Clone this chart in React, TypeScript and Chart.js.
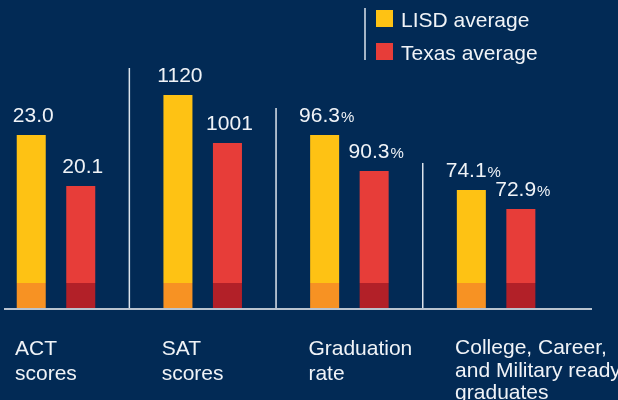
import React, { useEffect, useRef } from 'react';
import { Chart, registerables } from 'chart.js';

Chart.register(...registerables);

// ---------- data ----------
const categories: string[][] = [
  ['ACT', 'scores'],
  ['SAT', 'scores'],
  ['Graduation', 'rate'],
  ['College, Career,', 'and Military ready', 'graduates'],
];
const seriesNames: string[] = ['LISD average', 'Texas average'];
const lisdValues: number[] = [23.0, 1120, 96.3, 74.1];
const texasValues: number[] = [20.1, 1001, 90.3, 72.9];
const valueDecimals: number[] = [1, 0, 1, 1];
const valueSuffix: string[] = ['', '', '%', '%'];
// each metric is drawn on its own (hidden) value axis
const groupAxisMin: number[] = [13.11, 589.5, 67.3, 66.58];
const groupAxisMax: number[] = [30.68, 1355.5, 118.8, 86.1];

// ---------- style ----------
const FONT = "'Liberation Sans', Arial, sans-serif";
const BG = '#022a55';
const TEXT = '#f0f3f7';
const LINE = '#dde4ec';
const seriesColors = [
  { top: '#fec214', base: '#f79223' },
  { top: '#e73d39', base: '#b22028' },
];

function bandFill(ctx: any, s: number) {
  const chart = ctx.chart;
  const area = chart.chartArea;
  const c = seriesColors[s];
  if (!area) return c.top;
  const g = chart.ctx.createLinearGradient(0, area.bottom, 0, area.bottom - 52);
  g.addColorStop(0, c.base);
  g.addColorStop(0.5, c.base);
  g.addColorStop(0.5, c.top);
  g.addColorStop(1, c.top);
  return g;
}

const valueLabelPlugin = {
  id: 'valueLabels',
  afterDatasetsDraw(chart: any) {
    const ctx = chart.ctx;
    ctx.save();
    ctx.fillStyle = TEXT;
    ctx.textBaseline = 'alphabetic';
    ctx.textAlign = 'left';
    chart.data.datasets.forEach((ds: any, i: number) => {
      const el = chart.getDatasetMeta(i).data[0];
      if (!el) return;
      const g = ds.group;
      const num = Number(ds.data[0].y).toFixed(valueDecimals[g]);
      const suf = valueSuffix[g];
      ctx.font = `21px ${FONT}`;
      const wNum = ctx.measureText(num).width;
      ctx.font = `15px ${FONT}`;
      const wSuf = suf ? ctx.measureText(suf).width + 1 : 0;
      const left = el.x + 2 - (wNum + wSuf) / 2;
      const y = el.y - 13;
      ctx.font = `21px ${FONT}`;
      ctx.fillText(num, left, y);
      if (suf) {
        ctx.font = `15px ${FONT}`;
        ctx.fillText(suf, left + wNum + 1, y);
      }
    });
    ctx.restore();
  },
};

const separatorPlugin = {
  id: 'groupSeparators',
  afterDatasetsDraw(chart: any) {
    const ctx = chart.ctx;
    const xs = chart.scales.x;
    const bottom = chart.chartArea.bottom;
    ctx.save();
    ctx.strokeStyle = LINE;
    ctx.lineWidth = 1.5;
    for (let g = 1; g < categories.length; g++) {
      let top = Infinity;
      chart.data.datasets.forEach((ds: any, i: number) => {
        if (ds.group === g) {
          const el = chart.getDatasetMeta(i).data[0];
          if (el) top = Math.min(top, el.y);
        }
      });
      const px = xs.getPixelForValue(g - 0.5);
      ctx.beginPath();
      ctx.moveTo(px, top - 27);
      ctx.lineTo(px, bottom);
      ctx.stroke();
    }
    ctx.restore();
  },
};

const legendPlugin = {
  id: 'sideLegend',
  afterDraw(chart: any) {
    const ctx = chart.ctx;
    ctx.save();
    ctx.strokeStyle = LINE;
    ctx.lineWidth = 1.5;
    ctx.beginPath();
    ctx.moveTo(365, 8);
    ctx.lineTo(365, 60);
    ctx.stroke();
    ctx.font = `21px ${FONT}`;
    ctx.textBaseline = 'alphabetic';
    ctx.textAlign = 'left';
    seriesNames.forEach((name, s) => {
      const y = 10 + s * 33;
      ctx.fillStyle = seriesColors[s].top;
      ctx.fillRect(376, y, 17, 17);
      ctx.fillStyle = TEXT;
      ctx.fillText(name, 401, y + 16.5);
    });
    ctx.restore();
  },
};

export default function App() {
  const ref = useRef<HTMLCanvasElement | null>(null);

  useEffect(() => {
    if (!ref.current) return;
    const datasets: any[] = [];
    categories.forEach((_, g) => {
      [lisdValues, texasValues].forEach((vals, s) => {
        datasets.push({
          label: seriesNames[s],
          data: [{ x: g, y: vals[g] }],
          yAxisID: 'y' + g,
          group: g,
          backgroundColor: (ctx: any) => bandFill(ctx, s),
          borderWidth: 0,
          skipNull: true,
          categoryPercentage: 0.675,
          barPercentage: 0.586,
        });
      });
    });

    const scales: any = {
      x: {
        type: 'linear',
        min: -0.3476,
        max: 3.6469,
        offset: false,
        bounds: 'data',
        afterBuildTicks: (scale: any) => {
          scale.ticks = categories.map((_, i) => ({ value: i }));
        },
        afterFit: (scale: any) => {
          scale.height = 91;
          scale.paddingLeft = 0;
          scale.paddingRight = 0;
        },
        grid: { display: false },
        border: { display: true, color: '#b9c3cf', width: 2, z: 1 },
        ticks: {
          autoSkip: false,
          maxRotation: 0,
          minRotation: 0,
          align: 'start',
          labelOffset: -41,
          padding: 20,
          color: TEXT,
          font: (ctx: any) =>
            ctx.index === 3
              ? { family: FONT, size: 21, lineHeight: '22.5px' }
              : { family: FONT, size: 21, lineHeight: '24.7px' },
          callback: (_v: any, index: number) => categories[index],
        },
      },
    };
    categories.forEach((_, g) => {
      scales['y' + g] = {
        type: 'linear',
        axis: 'y',
        display: false,
        min: groupAxisMin[g],
        max: groupAxisMax[g],
      };
    });

    const chart = new Chart(ref.current, {
      type: 'bar',
      data: { datasets },
      options: {
        responsive: false,
        animation: false,
        devicePixelRatio: 1,
        layout: { padding: { left: 5, right: 27, top: 0, bottom: 0 } },
        plugins: {
          legend: { display: false },
          tooltip: { enabled: false },
        },
        scales,
      },
      plugins: [separatorPlugin, valueLabelPlugin, legendPlugin],
    } as any);
    return () => chart.destroy();
  }, []);

  return (
    <div style={{ position: 'absolute', left: 0, top: 0, width: 618, height: 400, background: BG, overflow: 'hidden' }}>
      <canvas ref={ref} width={618} height={400} style={{ display: 'block' }} />
    </div>
  );
}
